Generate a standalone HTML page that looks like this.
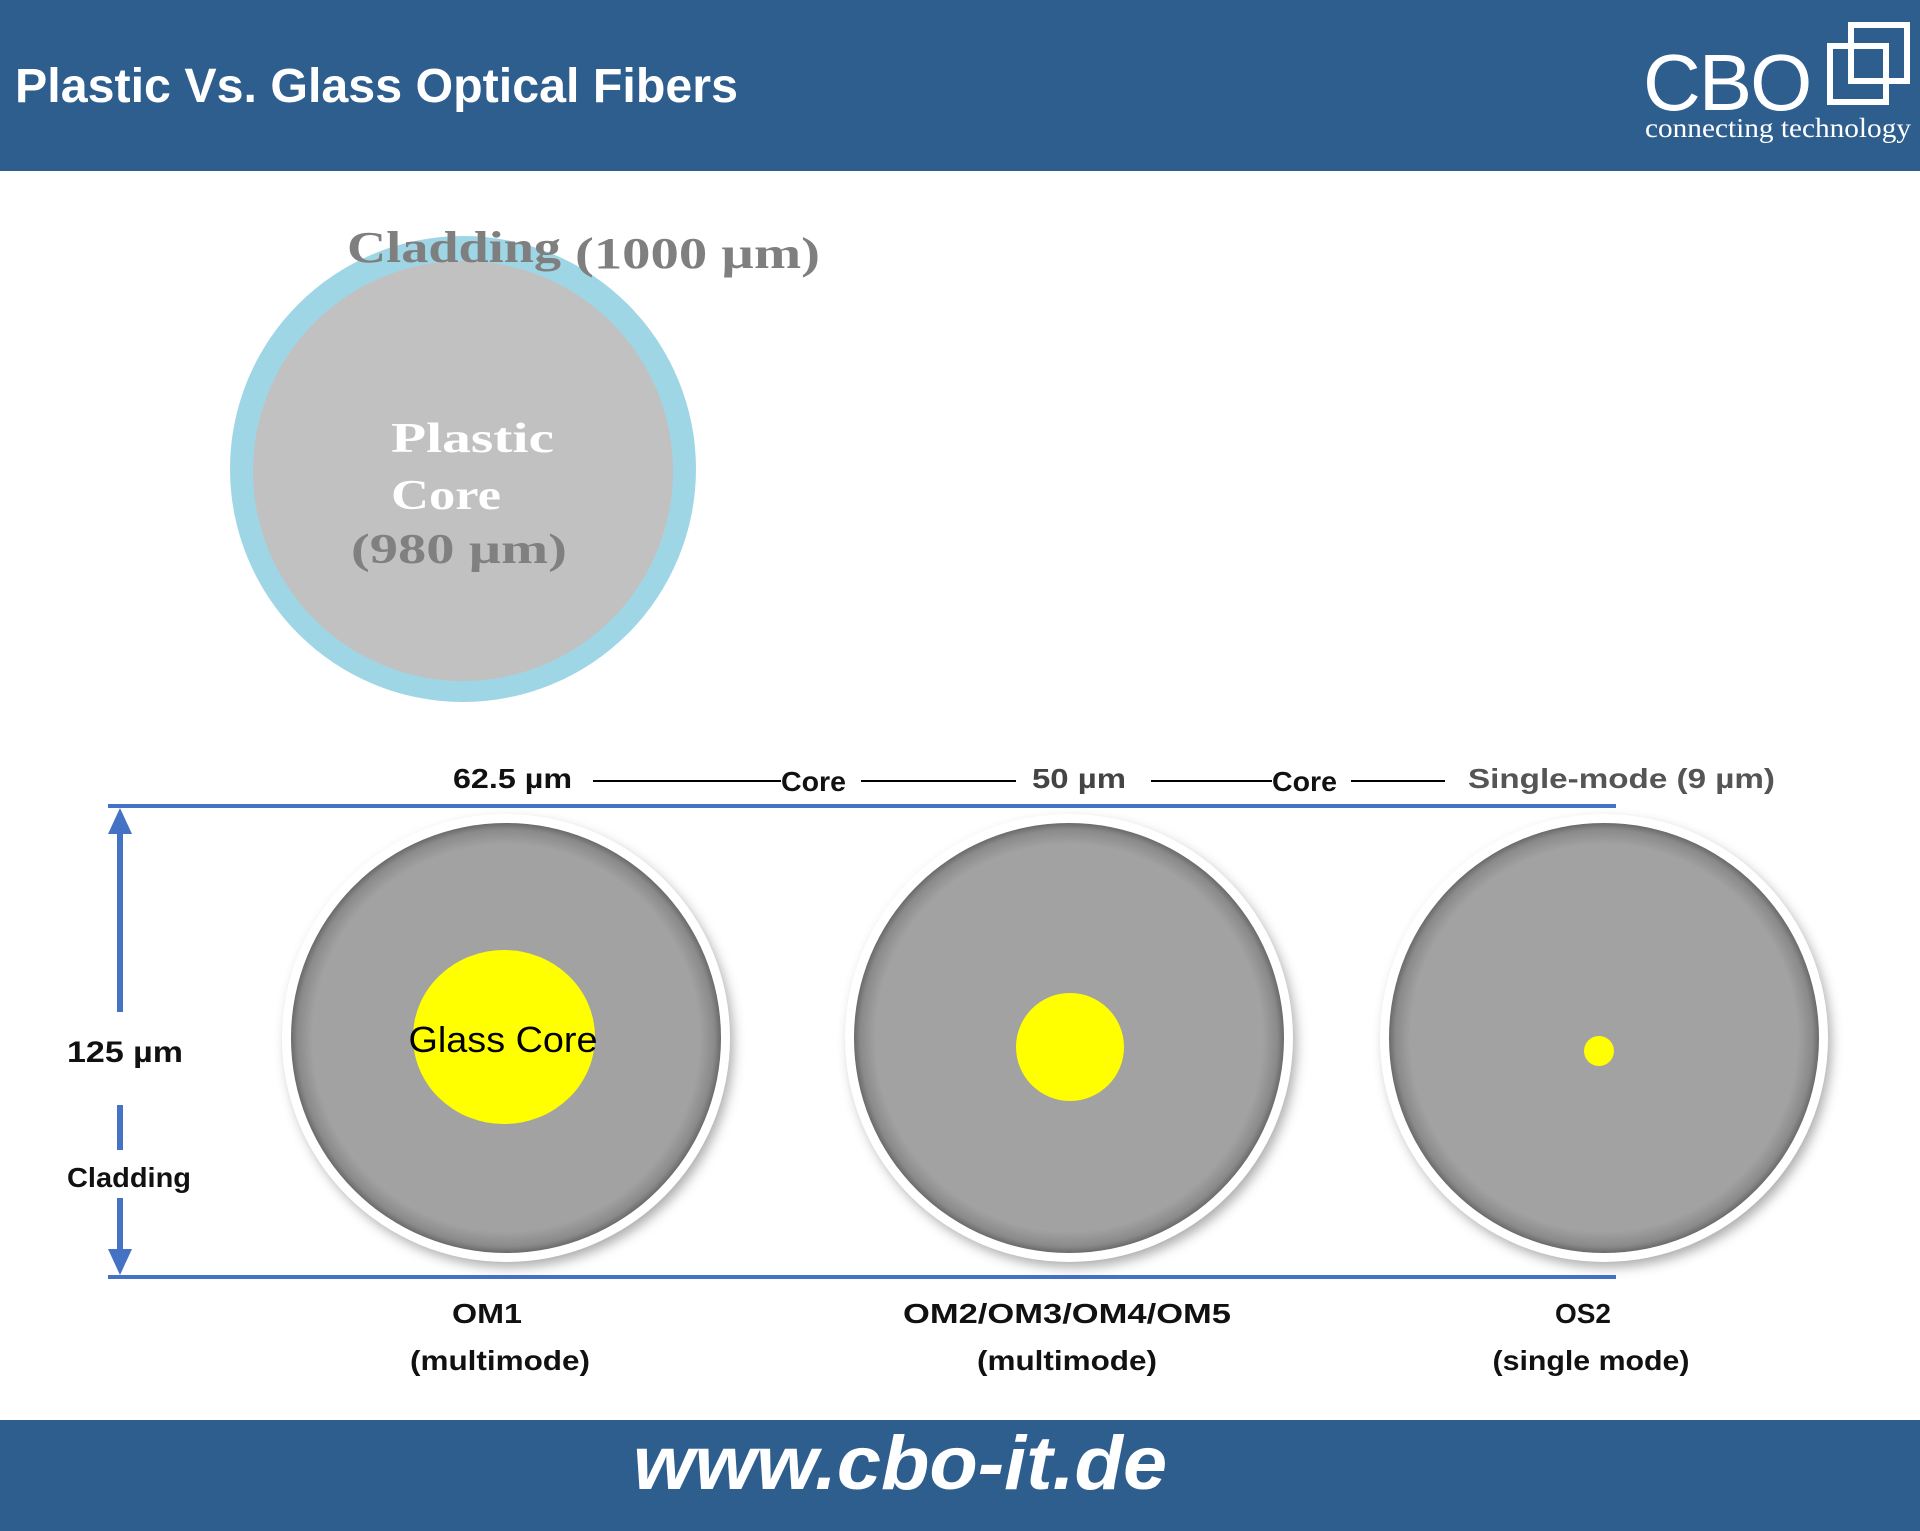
<!DOCTYPE html>
<html><head><meta charset="utf-8"><style>
html,body{margin:0;padding:0;background:#fff}
svg{display:block}
</style></head><body>
<svg width="1920" height="1531" viewBox="0 0 1920 1531" xmlns="http://www.w3.org/2000/svg">
<defs>
<radialGradient id="g" cx="50%" cy="50%" r="50%">
<stop offset="0.9" stop-color="#a2a2a2"/><stop offset="0.97" stop-color="#8a8a8a"/><stop offset="1" stop-color="#6a6a6a"/>
</radialGradient>
<filter id="sh" x="-20%" y="-20%" width="140%" height="140%"><feGaussianBlur stdDeviation="6"/></filter>
</defs>
<rect x="0" y="0" width="1920" height="171" fill="#2e5e8e"/>
<text x="15" y="102" font-family="Liberation Sans, sans-serif" font-weight="bold" font-size="48" fill="#fff" textLength="723" lengthAdjust="spacingAndGlyphs">Plastic Vs. Glass Optical Fibers</text>
<text x="1643" y="110" font-family="Liberation Sans, sans-serif" font-size="80" fill="#fff" letter-spacing="-2">CBO</text>
<rect x="1851" y="25" width="56" height="56" fill="none" stroke="#fff" stroke-width="6"/>
<rect x="1830" y="46" width="56" height="56" fill="none" stroke="#fff" stroke-width="6"/>
<text x="1645" y="137" font-family="Liberation Serif, serif" font-size="27" fill="#fff" textLength="266" lengthAdjust="spacingAndGlyphs">connecting technology</text>

<circle cx="463" cy="469" r="233" fill="#9fd6e6"/>
<circle cx="463" cy="471" r="210" fill="#c1c1c1"/>
<g font-family="Liberation Serif, serif" font-weight="bold" font-size="44" lengthAdjust="spacingAndGlyphs">
<text x="347" y="262" fill="#7f7f7f" textLength="214" lengthAdjust="spacingAndGlyphs">Cladding</text>
<text x="575" y="268" fill="#7f7f7f" textLength="245" lengthAdjust="spacingAndGlyphs">(1000 µm)</text>
<text x="391" y="452" fill="#fff" font-size="42" textLength="163" lengthAdjust="spacingAndGlyphs">Plastic</text>
<text x="391" y="509" fill="#fff" font-size="42" textLength="110" lengthAdjust="spacingAndGlyphs">Core</text>
<text x="351" y="563" fill="#808080" font-size="42" textLength="216" lengthAdjust="spacingAndGlyphs">(980 µm)</text>
</g>

<g font-family="Liberation Sans, sans-serif" font-weight="bold" font-size="28">
<text x="453" y="788" fill="#111" textLength="119" lengthAdjust="spacingAndGlyphs">62.5 µm</text>
<line x1="593" y1="781" x2="781" y2="781" stroke="#000" stroke-width="2"/>
<text x="781" y="791" fill="#111" textLength="65" lengthAdjust="spacingAndGlyphs">Core</text>
<line x1="861" y1="781" x2="1016" y2="781" stroke="#000" stroke-width="2"/>
<text x="1032" y="788" fill="#444" textLength="94" lengthAdjust="spacingAndGlyphs">50 µm</text>
<line x1="1151" y1="781" x2="1272" y2="781" stroke="#000" stroke-width="2"/>
<text x="1272" y="791" fill="#111" textLength="65" lengthAdjust="spacingAndGlyphs">Core</text>
<line x1="1351" y1="781" x2="1445" y2="781" stroke="#000" stroke-width="2"/>
<text x="1468" y="788" fill="#555" textLength="307" lengthAdjust="spacingAndGlyphs">Single-mode (9 µm)</text>
</g>
<line x1="108" y1="806" x2="1616" y2="806" stroke="#4472c4" stroke-width="4"/>
<line x1="108" y1="1277" x2="1616" y2="1277" stroke="#4472c4" stroke-width="4"/>
<line x1="120" y1="830" x2="120" y2="1012" stroke="#4472c4" stroke-width="6"/>
<polygon points="120,808 108,834 132,834" fill="#4472c4"/>
<line x1="120" y1="1105" x2="120" y2="1150" stroke="#4472c4" stroke-width="6"/>
<line x1="120" y1="1198" x2="120" y2="1255" stroke="#4472c4" stroke-width="6"/>
<polygon points="120,1275 108,1249 132,1249" fill="#4472c4"/>
<g font-family="Liberation Sans, sans-serif" font-weight="bold" font-size="30" fill="#111">
<text x="67" y="1062" textLength="116" lengthAdjust="spacingAndGlyphs">125 µm</text>
<text x="67" y="1187" font-size="28" textLength="124" lengthAdjust="spacingAndGlyphs">Cladding</text>
</g>

<g>
<circle cx="510" cy="1044" r="223" fill="#555" opacity="0.5" filter="url(#sh)"/>
<circle cx="506" cy="1038" r="224" fill="#fff"/>
<circle cx="506" cy="1038" r="215" fill="url(#g)"/>
<ellipse cx="504" cy="1037" rx="91" ry="87" fill="#ffff00"/>
<text x="503" y="1052" text-anchor="middle" font-family="Liberation Sans, sans-serif" font-size="36" fill="#000" textLength="189" lengthAdjust="spacingAndGlyphs">Glass Core</text>

<circle cx="1073" cy="1044" r="223" fill="#555" opacity="0.5" filter="url(#sh)"/>
<circle cx="1069" cy="1038" r="224" fill="#fff"/>
<circle cx="1069" cy="1038" r="215" fill="url(#g)"/>
<circle cx="1070" cy="1047" r="54" fill="#ffff00"/>

<circle cx="1608" cy="1044" r="223" fill="#555" opacity="0.5" filter="url(#sh)"/>
<circle cx="1604" cy="1038" r="224" fill="#fff"/>
<circle cx="1604" cy="1038" r="215" fill="url(#g)"/>
<circle cx="1599" cy="1051" r="15" fill="#ffff00"/>
</g>

<g font-family="Liberation Sans, sans-serif" font-weight="bold" font-size="28" fill="#111" text-anchor="middle">
<text x="487" y="1323" textLength="70" lengthAdjust="spacingAndGlyphs">OM1</text>
<text x="500" y="1370" textLength="180" lengthAdjust="spacingAndGlyphs">(multimode)</text>
<text x="1067" y="1323" textLength="328" lengthAdjust="spacingAndGlyphs">OM2/OM3/OM4/OM5</text>
<text x="1067" y="1370" textLength="180" lengthAdjust="spacingAndGlyphs">(multimode)</text>
<text x="1583" y="1323" textLength="56" lengthAdjust="spacingAndGlyphs">OS2</text>
<text x="1591" y="1370" textLength="197" lengthAdjust="spacingAndGlyphs">(single mode)</text>
</g>

<rect x="0" y="1420" width="1920" height="111" fill="#2e5e8e"/>
<text x="900" y="1489" text-anchor="middle" font-family="Liberation Sans, sans-serif" font-weight="bold" font-style="italic" font-size="76" fill="#fff" textLength="534" lengthAdjust="spacingAndGlyphs">www.cbo-it.de</text>
</svg>
</body></html>
